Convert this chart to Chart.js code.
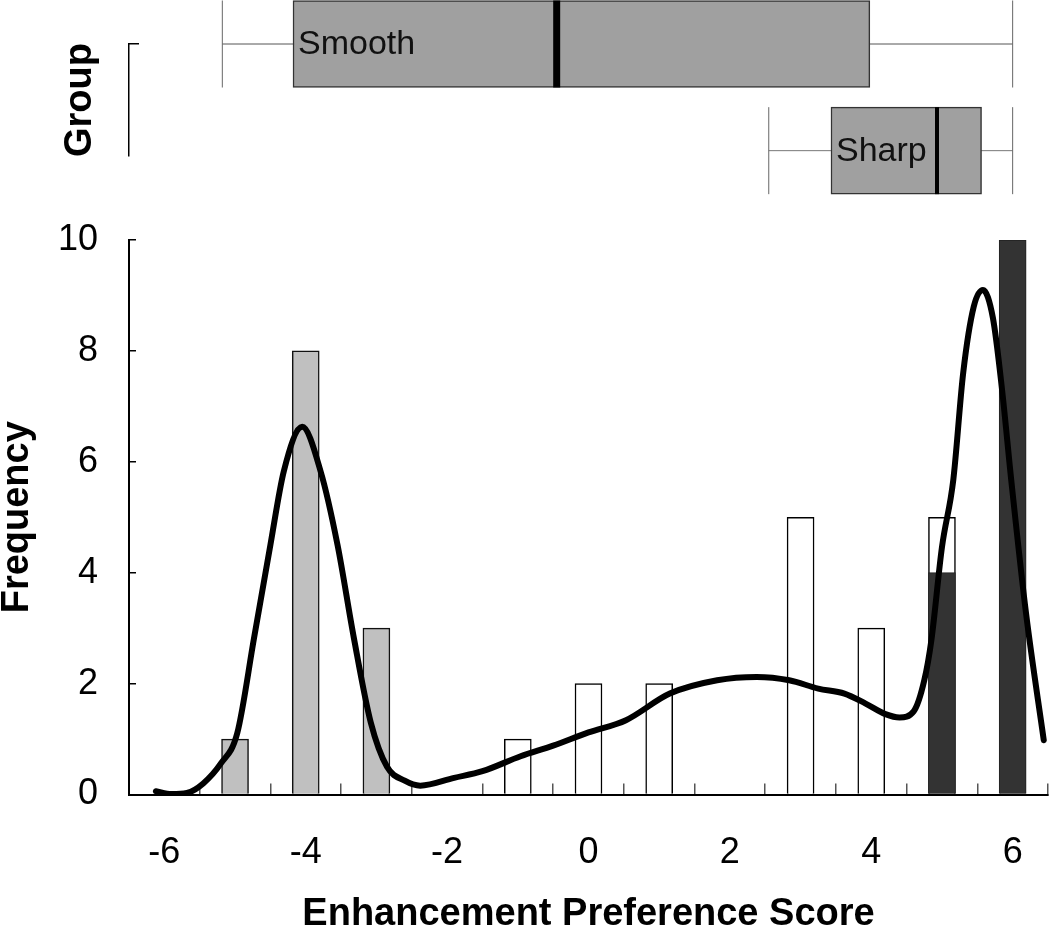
<!DOCTYPE html>
<html>
<head>
<meta charset="utf-8">
<title>Enhancement Preference Score</title>
<script src="https://cdn.jsdelivr.net/npm/chart.js"></script>
<style>
    html, body { margin: 0; padding: 0; background: #fff; overflow: hidden; }
    #page { position: relative; width: 1050px; height: 930px; overflow: hidden; }
    #boxChart { position: absolute; left: 0; top: 0; }
    #histChart { position: absolute; left: 0; top: 184px; }
</style>
</head>
<body>
<div id="page">
    <canvas id="boxChart" width="1050" height="200"></canvas>
    <canvas id="histChart" width="1050" height="760"></canvas>
</div>
<script>
// Box plot summary per group
const groups = ['Smooth', 'Sharp'];
const whiskerLow = [-5.18, 2.55];
const q1 = [-4.18, 3.43];
const median = [-0.45, 4.93];
const q3 = [3.98, 5.56];
const whiskerHigh = [6.0, 6.0];

// Histogram counts
const smoothScores = [-5, -4, -3];
const smoothCounts = [1, 8, 3];
const midScores = [-1, 0, 1, 3, 4, 5];
const midCounts = [1, 2, 2, 5, 3, 5];
const sharpScores = [5, 6];
const sharpCounts = [4, 10];

// Density curve
const densityX = [-6.12, -5.9, -5.68, -5.45, -5.2, -4.97, -4.73, -4.5, -4.31, -4.05, -3.79, -3.55, -3.32, -3.08, -2.85, -2.6, -2.38, -1.9, -1.5, -0.96, -0.5, 0, 0.53, 1.15, 1.82, 2.38, 2.84, 3.25, 3.62, 3.92, 4.2, 4.4, 4.6, 4.75, 4.85, 5.0, 5.16, 5.3, 5.45, 5.58, 5.72, 5.85, 5.98, 6.19, 6.44];
const densityY = [0.06, 0.01, 0.03, 0.2, 0.56, 1.1, 2.83, 4.5, 5.83, 6.63, 5.83, 4.5, 2.83, 1.3, 0.5, 0.25, 0.16, 0.3, 0.42, 0.69, 0.88, 1.12, 1.34, 1.82, 2.06, 2.12, 2.06, 1.91, 1.82, 1.64, 1.45, 1.39, 1.5, 2.06, 2.78, 4.46, 5.67, 7.6, 8.8, 9.1, 8.6, 7.3, 5.67, 3.26, 0.98];

// Axis ticks
const xLabelStep = 2;
const yTicks = [0, 2, 4, 6, 8, 10];

Chart.defaults.font.family = '"Liberation Sans", Arial, sans-serif';
Chart.defaults.color = '#000';
Chart.defaults.animation = false;

const toPoints = (xs, ys) => xs.map((x, i) => ({ x: x, y: ys[i] }));

// Group names written inside the boxes
const boxLabels = {
    id: 'boxLabels',
    afterDatasetsDraw(chart) {
        const { ctx, scales: { x, y } } = chart;
        ctx.save();
        ctx.font = '34px "Liberation Sans", Arial, sans-serif';
        ctx.fillStyle = '#111';
        ctx.textBaseline = 'middle';
        groups.forEach((name, i) => {
            ctx.fillText(name, x.getPixelForValue(q1[i]) + 5, y.getPixelForValue(i + 1) + 1);
        });
        ctx.restore();
    }
};

// Top panel: box plots
new Chart(document.getElementById('boxChart'), {
    type: 'bar',
    data: {
        datasets: [
            {
                type: 'scatter',
                data: groups.map((g, i) => ({ x: median[i], y: i + 1 })),
                pointStyle: 'line',
                pointRotation: 90,
                pointRadius: 43.5,
                pointBorderColor: '#000',
                pointBorderWidth: [7, 4],
                clip: false
            },
            {
                type: 'scatter',
                data: groups.flatMap((g, i) => [{ x: whiskerLow[i], y: i + 1 }, { x: whiskerHigh[i], y: i + 1 }]),
                pointStyle: 'line',
                pointRotation: 90,
                pointRadius: 43.5,
                pointBorderColor: '#666',
                pointBorderWidth: 1,
                clip: false
            },
            {
                type: 'bar',
                indexAxis: 'y',
                data: groups.map((g, i) => ({ x: [q1[i], q3[i]], y: i + 1 })),
                backgroundColor: '#a0a0a0',
                borderColor: '#333',
                borderWidth: 1.5,
                borderSkipped: false,
                barThickness: 87,
                clip: false
            },
            {
                type: 'line',
                data: [{ x: whiskerLow[0], y: 1 }, { x: whiskerHigh[0], y: 1 }],
                borderColor: '#555',
                borderWidth: 1,
                pointRadius: 0,
                clip: false
            },
            {
                type: 'line',
                data: [{ x: whiskerLow[1], y: 2 }, { x: whiskerHigh[1], y: 2 }],
                borderColor: '#777',
                borderWidth: 1,
                pointRadius: 0,
                clip: false
            }
        ]
    },
    options: {
        responsive: false,
        layout: { autoPadding: false, padding: { top: 44, bottom: 44, left: 0, right: 2 } },
        plugins: { legend: { display: false }, tooltip: { enabled: false } },
        scales: {
            x: { type: 'linear', min: -6.5, max: 6.5, offset: false, display: false },
            y: {
                type: 'linear',
                min: 1,
                max: 2.05,
                reverse: true,
                offset: false,
                afterBuildTicks: s => { s.ticks = [{ value: 1 }]; },
                afterFit: s => { s.width = 129; },
                ticks: { display: false },
                grid: { offset: false, drawOnChartArea: false, drawTicks: true, tickLength: -10, color: '#000', lineWidth: 1.5 },
                border: { display: true, color: '#000', width: 1.5 },
                title: {
                    display: true,
                    text: 'Group',
                    color: '#000',
                    font: { size: 38, weight: 'bold', lineHeight: 0.9 },
                    padding: { top: 63, bottom: 0 }
                }
            }
        }
    },
    plugins: [boxLabels]
});

// Bottom panel: histogram with density curve
new Chart(document.getElementById('histChart'), {
    type: 'bar',
    data: {
        datasets: [
            {
                type: 'line',
                data: toPoints(densityX, densityY),
                borderColor: '#000',
                borderWidth: 6,
                borderCapStyle: 'round',
                borderJoinStyle: 'round',
                cubicInterpolationMode: 'monotone',
                pointRadius: 0,
                fill: false
            },
            {
                data: toPoints(sharpScores, sharpCounts),
                backgroundColor: '#333333',
                borderColor: '#222',
                borderWidth: 1,
                barThickness: 27,
                grouped: false
            },
            {
                data: toPoints(midScores, midCounts),
                backgroundColor: '#ffffff',
                borderColor: '#000',
                borderWidth: 1.5,
                barThickness: 27,
                grouped: false
            },
            {
                data: toPoints(smoothScores, smoothCounts),
                backgroundColor: '#c0c0c0',
                borderColor: '#111',
                borderWidth: 1.5,
                barThickness: 27,
                grouped: false
            }
        ]
    },
    options: {
        responsive: false,
        layout: { autoPadding: false, padding: { top: 0, bottom: 10, left: 0, right: 2 } },
        plugins: { legend: { display: false }, tooltip: { enabled: false } },
        scales: {
            x: {
                type: 'linear',
                min: -6.5,
                max: 6.5,
                offset: false,
                afterFit: s => { s.height = 139.5; },
                ticks: {
                    stepSize: 0.5,
                    autoSkip: false,
                    maxRotation: 0,
                    padding: 0,
                    color: '#000',
                    font: { size: 36, lineHeight: 3.86 },
                    callback: v => (v % xLabelStep === 0 ? String(v) : '')
                },
                grid: {
                    offset: false,
                    drawOnChartArea: false,
                    drawTicks: true,
                    tickLength: -11,
                    lineWidth: 1.5,
                    color: ctx => (ctx.tick && Math.abs(ctx.tick.value % 1) === 0.5 ? '#555' : 'rgba(0,0,0,0)')
                },
                border: { display: true, color: '#000', width: 2 },
                title: {
                    display: true,
                    text: 'Enhancement Preference Score',
                    color: '#000',
                    font: { size: 38, weight: 'bold', lineHeight: 1 },
                    padding: 0
                }
            },
            y: {
                min: 0,
                max: 10,
                offset: false,
                afterBuildTicks: s => { s.ticks = yTicks.map(v => ({ value: v })); },
                afterFit: s => { s.width = 129; },
                ticks: { padding: 38, color: '#000', font: { size: 36, lineHeight: 1 } },
                grid: { drawOnChartArea: false, drawTicks: true, tickLength: -7, color: '#000', lineWidth: 1.5 },
                border: { display: true, color: '#000', width: 2 },
                title: {
                    display: true,
                    text: 'Frequency',
                    color: '#000',
                    font: { size: 38, weight: 'bold', lineHeight: 0.9 },
                    padding: 0
                }
            }
        }
    }
});
</script>
</body>
</html>
